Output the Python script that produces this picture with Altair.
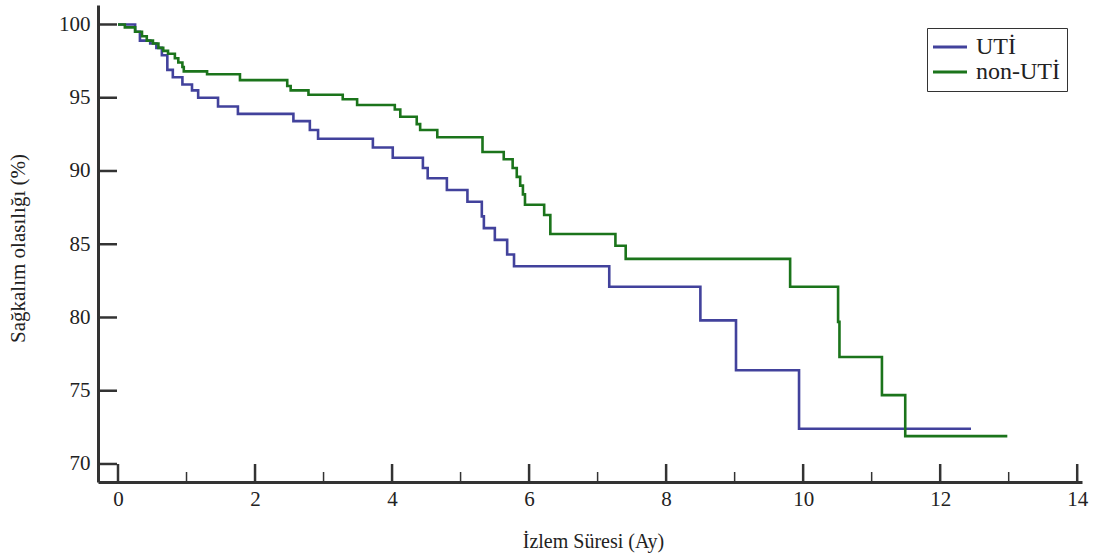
import altair as alt
import pandas as pd

# ---- data ----
groups = ["UTİ", "non-UTİ"]
colors = ["#42429c", "#1b741b"]

uti_x = [0, 0.25, 0.32, 0.47, 0.56, 0.64, 0.72, 0.80, 0.94, 1.08, 1.17, 1.46, 1.75,
         2.56, 2.80, 2.92, 3.72, 4.01, 4.45, 4.52, 4.80, 5.10, 5.31, 5.34, 5.50,
         5.68, 5.78, 7.17, 8.50, 9.02, 9.94, 12.45]
uti_y = [100, 99.5, 98.9, 98.7, 98.4, 97.9, 96.9, 96.4, 95.9, 95.5, 95.0, 94.4, 93.9,
         93.4, 92.8, 92.2, 91.6, 90.9, 90.2, 89.5, 88.7, 87.9, 86.9, 86.1, 85.3,
         84.3, 83.5, 82.1, 79.8, 76.4, 72.4, 72.4]

non_x = [0, 0.10, 0.25, 0.35, 0.42, 0.51, 0.59, 0.66, 0.73, 0.83, 0.88, 0.94, 0.96,
         1.30, 1.78, 2.47, 2.52, 2.78, 3.28, 3.49, 4.04, 4.12, 4.36, 4.41, 4.66,
         5.32, 5.63, 5.76, 5.82, 5.87, 5.91, 5.94, 6.22, 6.31, 7.26, 7.41, 9.81,
         10.51, 10.53, 11.15, 11.49, 12.98]
non_y = [100, 99.8, 99.5, 99.2, 98.9, 98.7, 98.4, 98.2, 98.0, 97.7, 97.4, 97.1, 96.8,
         96.6, 96.2, 95.8, 95.5, 95.2, 94.9, 94.5, 94.2, 93.7, 93.2, 92.8, 92.3,
         91.3, 90.8, 90.2, 89.6, 89.0, 88.4, 87.7, 87.0, 85.7, 84.9, 84.0, 82.1,
         79.7, 77.3, 74.7, 71.9, 71.9]

x_major = [0, 2, 4, 6, 8, 10, 12, 14]
x_minor = [1, 3, 5, 7, 9, 11, 13]
y_major = [70, 75, 80, 85, 90, 95, 100]

rows = [{"t": x, "s": y, "grup": groups[0]} for x, y in zip(uti_x, uti_y)]
rows += [{"t": x, "s": y, "grup": groups[1]} for x, y in zip(non_x, non_y)]
df = pd.DataFrame(rows)

W, H = 984, 477
FONT = "Liberation Serif"
AX = "#333333"

xscale = alt.Scale(domain=[-0.292, 14.07], nice=False, zero=False)
yscale = alt.Scale(domain=[68.77, 101.33], nice=False, zero=False)

x_axis = alt.Axis(values=x_major, ticks=False, grid=False, domainWidth=3, domainColor=AX,
                  labelFont=FONT, labelFontSize=21, labelColor="#222", labelPadding=6,
                  title="İzlem Süresi (Ay)", titleFont=FONT, titleFontSize=20,
                  titleFontWeight="normal", titleColor="#222", titleX=495, titleY=65,
                  titleBaseline="alphabetic", titleAlign="center")
y_axis = alt.Axis(values=y_major, ticks=False, grid=False, domainWidth=3, domainColor=AX,
                  labelFont=FONT, labelFontSize=21, labelColor="#222", labelPadding=8,
                  title="Sağkalım olasılığı (%)", titleFont=FONT, titleFontSize=21,
                  titleFontWeight="normal", titleColor="#222", titleX=-80, titleY=243,
                  titleAngle=-90, titleBaseline="middle", titleAlign="center")

lines = alt.Chart(df).mark_line(interpolate="step-after", strokeWidth=2.6).encode(
    x=alt.X("t:Q", scale=xscale, axis=x_axis),
    y=alt.Y("s:Q", scale=yscale, axis=y_axis),
    color=alt.Color("grup:N", scale=alt.Scale(domain=groups, range=colors),
                    sort=groups,
                    legend=alt.Legend(orient="none", legendX=829, legendY=23, title=None,
                                      symbolType="M-1.7,0H1.7", symbolSize=400,
                                      symbolStrokeWidth=3, symbolOffset=4,
                                      labelFont=FONT, labelFontSize=24, labelColor="#222",
                                      labelOffset=14, strokeColor=AX, fillColor="white",
                                      padding=7, rowPadding=1)),
)

ydf = pd.DataFrame({"s": y_major})
yticks = alt.Chart(ydf).mark_rule(color=AX, strokeWidth=2.5).encode(
    y=alt.Y("s:Q", scale=yscale, axis=y_axis),
    x=alt.value(0), x2=alt.value(19),
)
xmaj = alt.Chart(pd.DataFrame({"t": x_major})).mark_rule(color=AX, strokeWidth=2.5).encode(
    x=alt.X("t:Q", scale=xscale, axis=x_axis),
    y=alt.value(H), y2=alt.value(H - 18),
)
xmin = alt.Chart(pd.DataFrame({"t": x_minor})).mark_rule(color=AX, strokeWidth=1.5).encode(
    x=alt.X("t:Q", scale=xscale, axis=x_axis),
    y=alt.value(H), y2=alt.value(H - 10),
)

chart = alt.layer(yticks, xmaj, xmin, lines).properties(
    width=W, height=H,
    autosize=alt.AutoSizeParams(type="none"),
    padding={"left": 98, "top": 5, "right": 15, "bottom": 71},
    background="white",
).configure_view(stroke=None)

chart.save("out.html", embed_options={"renderer": "svg", "actions": False})
